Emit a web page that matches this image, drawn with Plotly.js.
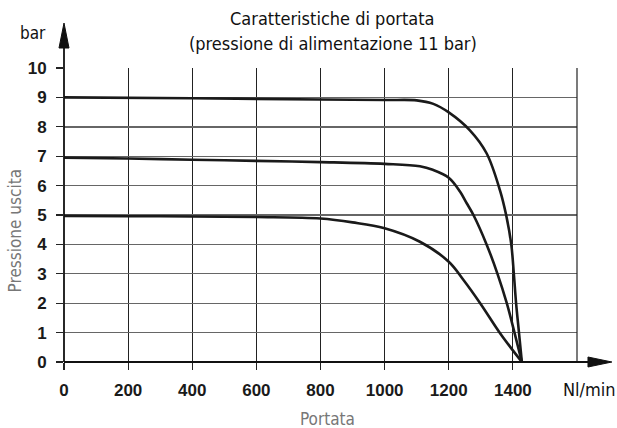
<!DOCTYPE html>
<html><head><meta charset="utf-8">
<script src="https://cdn.plot.ly/plotly-3.0.1.min.js"></script>
<style>html,body{margin:0;padding:0;background:#fff}#c{width:617px;height:428px}</style>
</head><body><div id="c"></div>
<script>
// Portata (Nl/min) and pressione uscita (bar) for the three curves
const x9 = [0, 400, 800, 1000, 1100, 1152, 1200, 1266, 1318, 1360, 1379, 1395, 1403, 1410, 1419, 1428];
const y9 = [9.0, 8.97, 8.93, 8.91, 8.9, 8.78, 8.49, 7.88, 7.1, 5.83, 5.0, 4.0, 3.0, 2.0, 1.0, 0];
const x7 = [0, 200, 400, 600, 800, 1000, 1110, 1150, 1200, 1235, 1256, 1277, 1318, 1352, 1381, 1405, 1428];
const y7 = [6.95, 6.92, 6.88, 6.84, 6.8, 6.74, 6.66, 6.54, 6.27, 5.8, 5.4, 5.0, 4.0, 3.0, 2.0, 1.0, 0];
const x5 = [0, 200, 400, 600, 800, 900, 1000, 1110, 1200, 1246, 1298, 1360, 1428];
const y5 = [4.97, 4.96, 4.95, 4.93, 4.88, 4.75, 4.55, 4.09, 3.41, 2.79, 2.0, 0.98, 0];
const xTicks = [0, 200, 400, 600, 800, 1000, 1200, 1400];
const yTicks = [0, 1, 2, 3, 4, 5, 6, 7, 8, 9, 10];

const cond = "DejaVu Sans Condensed, Roboto, Arial";
const lineStyle = {color: '#1a1a1a', width: 2.6, shape: 'spline', smoothing: 1.0};
const data = [
  {x: x9, y: y9, mode: 'lines', line: lineStyle, hoverinfo: 'skip'},
  {x: x7, y: y7, mode: 'lines', line: lineStyle, hoverinfo: 'skip'},
  {x: x5, y: y5, mode: 'lines', line: lineStyle, hoverinfo: 'skip'}
];

const tickFont = {family: 'Liberation Sans, Arial', size: 17, color: '#1a1a1a', weight: 'bold'};
const layout = {
  width: 617, height: 428,
  margin: {l: 64, r: 40, t: 68, b: 66},
  paper_bgcolor: '#fff', plot_bgcolor: '#fff',
  showlegend: false,
  xaxis: {range: [0, 1600], tickvals: xTicks, ticktext: xTicks.map(String),
          showgrid: true, gridcolor: '#222', gridwidth: 1.2,
          zeroline: false, showline: false,
          ticks: 'outside', ticklen: 7, tickcolor: '#222', tickwidth: 1.2,
          ticklabelstandoff: 6,
          tickfont: tickFont, fixedrange: true},
  yaxis: {range: [0, 10], tickvals: yTicks, ticktext: yTicks.map(String),
          showgrid: true, gridcolor: '#666', gridwidth: 1.4,
          zeroline: false, showline: false,
          ticks: 'outside', ticklen: 7, tickcolor: '#222', tickwidth: 1.2,
          ticklabelstandoff: 6,
          tickfont: tickFont, fixedrange: true},
  shapes: [
    {type: 'line', xref: 'paper', yref: 'paper', x0: 1, x1: 1, y0: 0, y1: 1, line: {color: '#222', width: 1.2}},
    {type: 'line', xref: 'paper', yref: 'paper', x0: 0, x1: 1.03, y0: 0, y1: 0, line: {color: '#111', width: 2}},
    {type: 'path', xref: 'paper', yref: 'paper', path: 'M 1.0214 -0.017 L 1.068 0 L 1.0214 0.017 Z', fillcolor: '#111', line: {color: '#111', width: 1}},
    {type: 'line', xref: 'paper', yref: 'paper', x0: 0, x1: 0, y0: 0, y1: 1.08, line: {color: '#111', width: 1.8}},
    {type: 'path', xref: 'paper', yref: 'paper', path: 'M -0.00975 1.068 L 0 1.153 L 0.00975 1.068 Z', fillcolor: '#111', line: {color: '#111', width: 1}}
  ],
  annotations: [
    {text: 'Caratteristiche di portata', xref: 'paper', yref: 'paper', x: 0.524, y: 1.170, xanchor: 'center', yanchor: 'middle', showarrow: false,
     font: {family: cond, size: 18, color: '#111'}},
    {text: '(pressione di alimentazione 11 bar)', xref: 'paper', yref: 'paper', x: 0.524, y: 1.085, xanchor: 'center', yanchor: 'middle', showarrow: false,
     font: {family: cond, size: 18, color: '#111'}},
    {text: 'bar', xref: 'paper', yref: 'paper', x: -0.0604, y: 1.119, xanchor: 'center', yanchor: 'middle', showarrow: false,
     font: {family: cond, size: 17, color: '#111'}},
    {text: 'Nl/min', xref: 'paper', yref: 'paper', x: 1.0234, y: -0.0952, xanchor: 'center', yanchor: 'middle', showarrow: false,
     font: {family: cond, size: 18, color: '#111'}},
    {text: 'Portata', xref: 'paper', yref: 'paper', x: 0.514, y: -0.194, xanchor: 'center', yanchor: 'middle', showarrow: false,
     font: {family: cond, size: 17, color: '#777'}},
    {text: 'Pressione uscita', xref: 'paper', yref: 'paper', x: -0.095, y: 0.445, xanchor: 'center', yanchor: 'middle', textangle: -90, showarrow: false,
     font: {family: cond, size: 17, color: '#777'}}
  ]
};
Plotly.newPlot('c', data, layout, {staticPlot: true, displayModeBar: false});
</script></body></html>
